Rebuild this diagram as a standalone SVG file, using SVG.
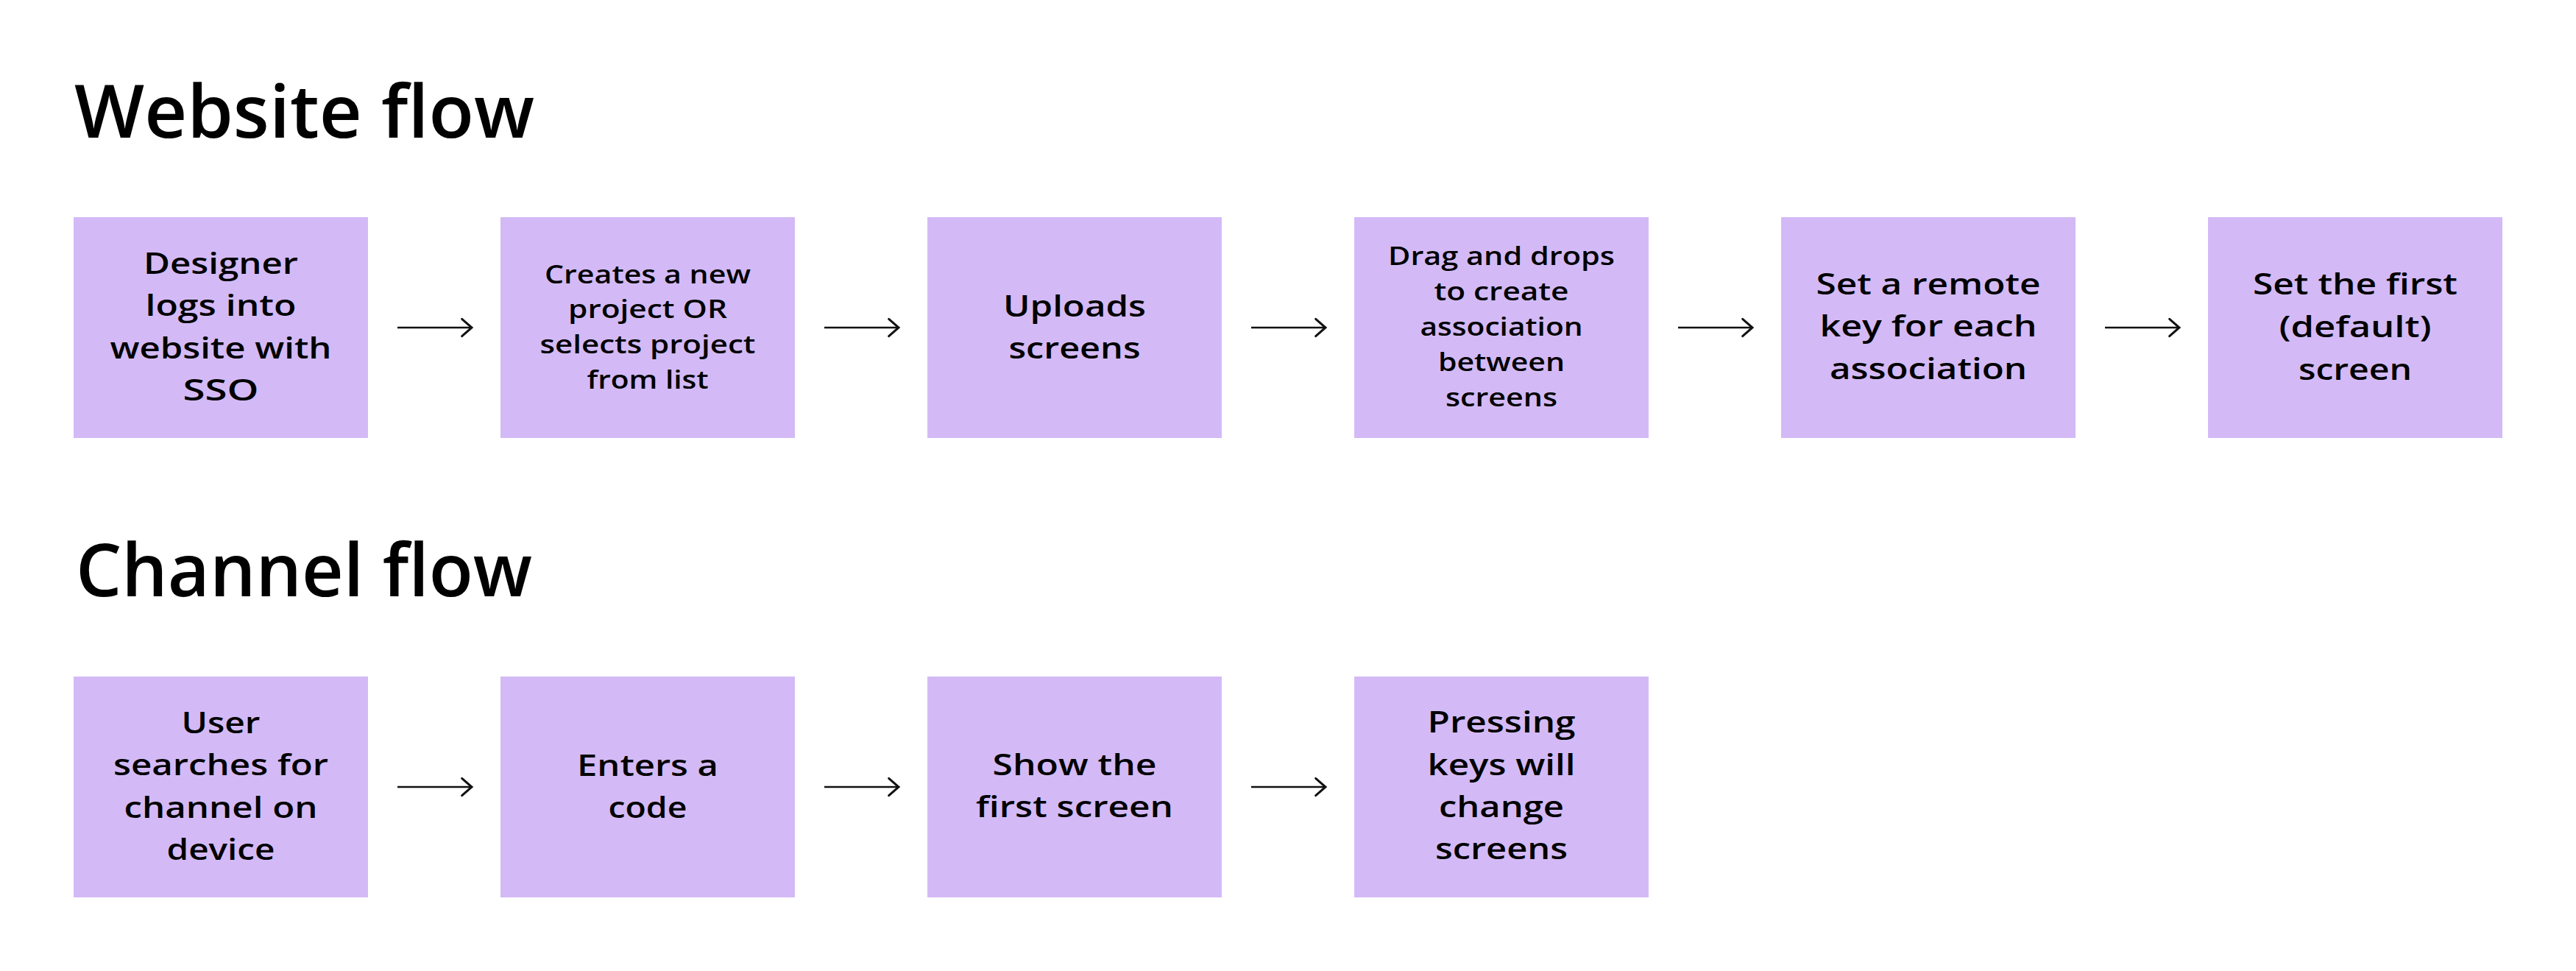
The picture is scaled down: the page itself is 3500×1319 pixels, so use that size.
<svg xmlns="http://www.w3.org/2000/svg" width="3500" height="1319" viewBox="0 0 3500 1319">
<style>
.bg{fill:#ffffff}
.box{fill:#D3BAF6}
.title{font-family:"Open Sans","Liberation Sans",sans-serif;font-weight:600;font-size:100px;fill:#000}
.t40{font-family:"Open Sans","Liberation Sans",sans-serif;font-weight:560;font-size:40px;fill:#000;text-anchor:middle}
.t34{font-family:"Open Sans","Liberation Sans",sans-serif;font-weight:560;font-size:34px;fill:#000;text-anchor:middle}
.conn{stroke:#111;stroke-width:2.7;fill:none;marker-end:url(#arr)}
</style>
<defs>
<marker id="arr" markerUnits="userSpaceOnUse" markerWidth="20" markerHeight="30" viewBox="-2 -2 18 26" refX="13" refY="11" orient="auto">
<path d="M1,0.5 L13,11 L1,21.5" fill="none" stroke="#111" stroke-width="2.7" stroke-linecap="round" stroke-linejoin="miter"/>
</marker>
</defs>
<rect class="bg" x="0" y="0" width="3500" height="1319"/>

<text class="title" x="101" y="187" textLength="625" lengthAdjust="spacingAndGlyphs">Website flow</text>
<text class="title" x="103" y="810" textLength="620" lengthAdjust="spacingAndGlyphs">Channel flow</text>

<g id="w1">
<rect class="box" x="100" y="295" width="400" height="300"/>
<text class="t40" x="300" y="372" textLength="210" lengthAdjust="spacingAndGlyphs">Designer</text>
<text class="t40" x="300" y="429" textLength="205" lengthAdjust="spacingAndGlyphs">logs into</text>
<text class="t40" x="300" y="487" textLength="301" lengthAdjust="spacingAndGlyphs">website with</text>
<text class="t40" x="300" y="544" textLength="103" lengthAdjust="spacingAndGlyphs">SSO</text>
</g>

<g id="w2">
<rect class="box" x="680" y="295" width="400" height="300"/>
<text class="t34" x="880" y="385" textLength="280" lengthAdjust="spacingAndGlyphs">Creates a new</text>
<text class="t34" x="880" y="432" textLength="216" lengthAdjust="spacingAndGlyphs">project OR</text>
<text class="t34" x="880" y="480" textLength="293" lengthAdjust="spacingAndGlyphs">selects project</text>
<text class="t34" x="880" y="528" textLength="165" lengthAdjust="spacingAndGlyphs">from list</text>
</g>

<g id="w3">
<rect class="box" x="1260" y="295" width="400" height="300"/>
<text class="t40" x="1460" y="430" textLength="194" lengthAdjust="spacingAndGlyphs">Uploads</text>
<text class="t40" x="1460" y="487" textLength="179" lengthAdjust="spacingAndGlyphs">screens</text>
</g>

<g id="w4">
<rect class="box" x="1840" y="295" width="400" height="300"/>
<text class="t34" x="2040" y="360" textLength="308" lengthAdjust="spacingAndGlyphs">Drag and drops</text>
<text class="t34" x="2040" y="408" textLength="183" lengthAdjust="spacingAndGlyphs">to create</text>
<text class="t34" x="2040" y="456" textLength="221" lengthAdjust="spacingAndGlyphs">association</text>
<text class="t34" x="2040" y="504" textLength="172" lengthAdjust="spacingAndGlyphs">between</text>
<text class="t34" x="2040" y="552" textLength="152" lengthAdjust="spacingAndGlyphs">screens</text>
</g>

<g id="w5">
<rect class="box" x="2420" y="295" width="400" height="300"/>
<text class="t40" x="2620" y="400" textLength="305" lengthAdjust="spacingAndGlyphs">Set a remote</text>
<text class="t40" x="2620" y="457" textLength="295" lengthAdjust="spacingAndGlyphs">key for each</text>
<text class="t40" x="2620" y="515" textLength="268" lengthAdjust="spacingAndGlyphs">association</text>
</g>

<g id="w6">
<rect class="box" x="3000" y="295" width="400" height="300"/>
<text class="t40" x="3200" y="400" textLength="278" lengthAdjust="spacingAndGlyphs">Set the first</text>
<text class="t40" x="3200" y="458" textLength="207" lengthAdjust="spacingAndGlyphs">(default)</text>
<text class="t40" x="3200" y="516" textLength="154" lengthAdjust="spacingAndGlyphs">screen</text>
</g>

<g id="c1">
<rect class="box" x="100" y="919" width="400" height="300"/>
<text class="t40" x="300" y="996" textLength="107" lengthAdjust="spacingAndGlyphs">User</text>
<text class="t40" x="300" y="1053" textLength="292" lengthAdjust="spacingAndGlyphs">searches for</text>
<text class="t40" x="300" y="1111" textLength="263" lengthAdjust="spacingAndGlyphs">channel on</text>
<text class="t40" x="300" y="1168" textLength="147" lengthAdjust="spacingAndGlyphs">device</text>
</g>

<g id="c2">
<rect class="box" x="680" y="919" width="400" height="300"/>
<text class="t40" x="880" y="1054" textLength="192" lengthAdjust="spacingAndGlyphs">Enters a</text>
<text class="t40" x="880" y="1111" textLength="107" lengthAdjust="spacingAndGlyphs">code</text>
</g>

<g id="c3">
<rect class="box" x="1260" y="919" width="400" height="300"/>
<text class="t40" x="1460" y="1053" textLength="223" lengthAdjust="spacingAndGlyphs">Show the</text>
<text class="t40" x="1460" y="1110" textLength="268" lengthAdjust="spacingAndGlyphs">first screen</text>
</g>

<g id="c4">
<rect class="box" x="1840" y="919" width="400" height="300"/>
<text class="t40" x="2040" y="995" textLength="201" lengthAdjust="spacingAndGlyphs">Pressing</text>
<text class="t40" x="2040" y="1053" textLength="201" lengthAdjust="spacingAndGlyphs">keys will</text>
<text class="t40" x="2040" y="1110" textLength="170" lengthAdjust="spacingAndGlyphs">change</text>
<text class="t40" x="2040" y="1167" textLength="180" lengthAdjust="spacingAndGlyphs">screens</text>
</g>

<g id="connectors">
<line class="conn" x1="540" y1="445" x2="641" y2="445"/>
<line class="conn" x1="1120" y1="445" x2="1221" y2="445"/>
<line class="conn" x1="1700" y1="445" x2="1801" y2="445"/>
<line class="conn" x1="2280" y1="445" x2="2381" y2="445"/>
<line class="conn" x1="2860" y1="445" x2="2961" y2="445"/>
<line class="conn" x1="540" y1="1069" x2="641" y2="1069"/>
<line class="conn" x1="1120" y1="1069" x2="1221" y2="1069"/>
<line class="conn" x1="1700" y1="1069" x2="1801" y2="1069"/>
</g>
</svg>
